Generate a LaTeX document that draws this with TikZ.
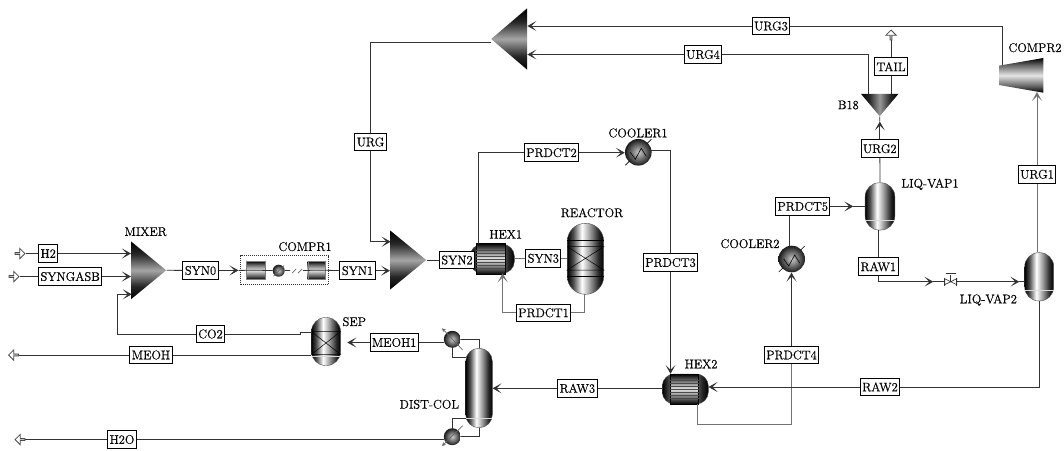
\documentclass[tikz,border=0pt]{standalone}
\usepackage{fontspec}
\usetikzlibrary{arrows.meta, shapes.geometric, shapes.arrows}
\newfontfamily\labelfont{Latin Modern Roman}[FakeBold=0.5]

\pgfdeclarehorizontalshading{vesselshade}{100bp}{color(0bp)=(black); color(25bp)=(black); color(33bp)=(black!70); color(45bp)=(white); color(55bp)=(black!35); color(68bp)=(black!85); color(75bp)=(black); color(100bp)=(black)}
\pgfdeclareverticalshading{tubeshade}{100bp}{color(0bp)=(black); color(25bp)=(black); color(35bp)=(black!60); color(50bp)=(black!10); color(65bp)=(black!60); color(75bp)=(black); color(100bp)=(black)}
\pgfdeclareverticalshading{mixshade}{100bp}{color(0bp)=(black); color(25bp)=(black); color(36bp)=(black!85); color(50bp)=(black!35); color(64bp)=(black!85); color(75bp)=(black); color(100bp)=(black)}
\pgfdeclarehorizontalshading{mixshadeside}{100bp}{color(0bp)=(black); color(25bp)=(black); color(36bp)=(black!85); color(50bp)=(black!40); color(64bp)=(black!85); color(75bp)=(black); color(100bp)=(black)}

\tikzset{
>={Stealth[length=9pt,width=10pt,inset=5pt]},
stream/.style={line width=0.8pt, black!80},
greystream/.style={line width=1pt, black!55},
tagbox/.style={draw, line width=1pt, fill=white, inner xsep=2pt, inner ysep=0pt, minimum height=17.5pt, font=\labelfont\fontsize{12.5}{14}\selectfont},
unitname/.style={inner sep=0pt, font=\labelfont\fontsize{12.5}{14}\selectfont},
vessel/.style={draw=black!70, line width=0.4pt, inner sep=0pt, shading=vesselshade, rounded corners=#1},
tubes/.style={draw=black, line width=0.6pt, inner sep=0pt, shading=tubeshade},
mixer/.style={isosceles triangle, isosceles triangle stretches, inner sep=0pt, shading=mixshade},
cooler/.style={circle, inner sep=0pt, minimum size=#1, inner color=black!20, outer color=black!90},
feedarrow/.style={single arrow, draw=black!70, fill=white, line width=0.8pt, inner sep=0pt, minimum height=10pt, minimum width=10.5pt, single arrow head extend=2pt},
}

\begin{document}
\begin{tikzpicture}[x=1pt, y=-1pt]
\useasboundingbox (0,0) rectangle (1064,450);

% units
\node[mixer, anchor=apex, minimum height=35pt, minimum width=57.6pt] (mixer) at (166.7,270.3) {};
\node[mixer, anchor=apex, minimum height=36pt, minimum width=59pt] (mixertwo) at (426.7,260) {};
\node[mixer, anchor=apex, shape border rotate=180, minimum height=36pt, minimum width=61.5pt] (split) at (490.7,39) {};
\node[mixer, anchor=apex, shape border rotate=270, minimum height=22.4pt, minimum width=37.6pt, shading=mixshadeside] (b18) at (879.7,116.7) {};
\shade[shading=tubeshade] (999,65.7) -- (1043.3,58) -- (1043.3,92.7) -- (999,85) -- cycle;

\node[vessel=14pt, minimum width=29pt, minimum height=48pt] (sep) at (326,341.5) {};
\node[vessel=18pt, minimum width=36.4pt, minimum height=71pt] (reactor) at (585.5,258.8) {};
\node[vessel=13pt, minimum width=26.6pt, minimum height=79.4pt] (column) at (479,388) {};
\node[vessel=14pt, minimum width=29.7pt, minimum height=47.3pt] (liqvapone) at (880,206.4) {};
\node[vessel=14pt, minimum width=29pt, minimum height=48.3pt] (liqvaptwo) at (1039.2,276.8) {};
\node[vessel=12pt, minimum width=44.3pt, minimum height=29pt] (hexone) at (492.2,258.8) {};
\node[vessel=12pt, minimum width=46pt, minimum height=30pt] (hextwo) at (685.3,389) {};
\node[tubes, minimum width=28.3pt, minimum height=31pt] (tubesone) at (490.8,258.8) {};
\node[tubes, minimum width=27.6pt, minimum height=30pt] (tubestwo) at (684.5,389) {};
\foreach \unit in {tubesone,tubestwo}
  \foreach \dy in {-9,-6,-3,0,3,6,9}
    \draw[black!70, line width=0.5pt] ([yshift=\dy pt]\unit.west) -- ([yshift=\dy pt]\unit.east);

\draw[black, line width=0.5pt] (567.3,240.7) -- (603.7,240.7);
\draw[black, line width=0.5pt] (567.3,246.7) -- (603.7,246.7) -- (567.3,270) -- (603.7,270) -- (567.3,246.7);
\draw[black, line width=0.5pt] (567.3,276.7) -- (603.7,276.7);
\draw[black, line width=0.5pt] (311.5,331.7) -- (340.5,331.7) -- (311.5,354.3) -- (340.5,354.3) -- (311.5,331.7);
\draw[black!15, line width=0.7pt] (311.5,356) -- (340.5,356);
\draw[black!15, line width=0.7pt] (465.7,418.3) -- (492.3,418.3);
\draw[black!15, line width=0.7pt] (865.2,220) -- (894.8,220);
\draw[black!15, line width=0.7pt] (1024.7,290.7) -- (1053.7,290.7);

\node[cooler=26.6pt] (coolerone) at (638.3,152.3) {};
\node[cooler=26.6pt] (coolertwo) at (791.7,259) {};
\foreach \unit in {coolerone,coolertwo} {
  \draw[black, line width=0.6pt] ([shift={(-13,13)}]\unit.center) -- ([shift={(-9,9)}]\unit.center);
  \draw[black, line width=0.6pt] ([shift={(13,-13)}]\unit.center) -- ([shift={(9,-9)}]\unit.center);
  \draw[black, line width=0.6pt] ([shift={(-8,0)}]\unit.center) -- ([shift={(-3,7)}]\unit.center) -- ([shift={(3,-4)}]\unit.center) -- ([shift={(8,4)}]\unit.center);
}
\node[cooler=17pt] (cond) at (452.3,339.3) {};
\node[cooler=17pt] (reboil) at (452.3,436.7) {};
\draw[black!60, line width=0.7pt, -{Stealth[length=4pt,width=4pt,inset=1.5pt]}] (462.7,350) -- (442,328.3);
\draw[black!60, line width=0.7pt, -{Stealth[length=4pt,width=4pt,inset=1.5pt]}] (462.7,425.7) -- (442,446);

% compressor block
\node[draw=black!80, densely dotted, line width=1pt, minimum width=87.6pt, minimum height=29pt] (comprone) at (284.5,270.2) {};
\node[draw=black!50, line width=0.3pt, shading=tubeshade, inner sep=0pt, minimum width=19pt, minimum height=18.3pt] (stageone) at (255.8,270.2) {};
\node[draw=black!50, line width=0.3pt, shading=tubeshade, inner sep=0pt, minimum width=17.6pt, minimum height=18.3pt] (stagetwo) at (316.5,270.2) {};
\node[cooler=12pt] (intercool) at (278.7,270.7) {};
\draw[black!60, line width=0.7pt] (273.5,276) -- (284,265.5);
\draw[black!60, line width=0.7pt] (292,273) -- (296,269);
\draw[black!60, line width=0.7pt] (298,273) -- (302,269);
\draw[stream] (stageone.center) -- (intercool);
\draw[stream] (intercool) -- (290,270.5);
\draw[stream] (303,270.5) -- (stagetwo.center);

% valve
\node[inner sep=0pt, minimum width=12pt, minimum height=10pt] (valve) at (950.7,281.7) {};
\begin{scope}[shift={(950.7,281.7)}]
\draw[black!80, line width=0.8pt] (-6,-4) -- (-6,4);
\draw[black!80, line width=0.8pt] (6,-4) -- (6,4);
\draw[black!80, line width=0.6pt] (-6,-3) -- (6,3) -- (6,-3) -- (-6,3) -- cycle;
\draw[black!80, line width=0.8pt] (0,0) -- (0,-7);
\draw[black!80, line width=1.2pt] (-5,-8) -- (5,-8);
\end{scope}

% stream tags
\node[tagbox] (lblhtwo) at (48.2,253.5) {H2};
\node[tagbox] (lblsyngas) at (70.2,276.5) {SYNGASB};
\node[tagbox] (lblsynzero) at (200.5,270.5) {SYN0};
\node[tagbox] (lblsynone) at (357.5,270.7) {SYN1};
\node[tagbox] (lblsyntwo) at (457,260) {SYN2};
\node[tagbox] (lblsynthree) at (543.3,258.3) {SYN3};
\node[tagbox] (lblco) at (210.5,334) {CO2};
\node[tagbox] (lblmeoh) at (151,355) {MEOH};
\node[tagbox] (lblwater) at (122,439.5) {H2O};
\node[tagbox] (lblmeohone) at (394.2,342.5) {MEOH1};
\node[tagbox] (lblurg) at (370.5,142) {URG};
\node[tagbox] (lblurgone) at (1037,174.3) {URG1};
\node[tagbox] (lblurgtwo) at (879.8,148.7) {URG2};
\node[tagbox] (lblurgthree) at (771,26) {URG3};
\node[tagbox] (lblurgfour) at (703,54.5) {URG4};
\node[tagbox] (lbltail) at (891,66.7) {TAIL};
\node[tagbox] (lblprdone) at (543.5,312.8) {PRDCT1};
\node[tagbox] (lblprdtwo) at (551.5,152.7) {PRDCT2};
\node[tagbox] (lblprdthree) at (670.5,262.5) {PRDCT3};
\node[tagbox] (lblprdfour) at (791.5,355) {PRDCT4};
\node[tagbox] (lblprdfive) at (802.7,206.4) {PRDCT5};
\node[tagbox] (lblrawone) at (878.3,266.7) {RAW1};
\node[tagbox] (lblrawtwo) at (880,387) {RAW2};
\node[tagbox] (lblrawthree) at (577.3,388.3) {RAW3};

% unit names
\node[unitname] (nmixer) at (145.7,231.7) {MIXER};
\node[unitname] (ncomprone) at (305,246.7) {COMPR1};
\node[unitname] (ncomprtwo) at (1035,47.7) {COMPR2};
\node[unitname] (nsep) at (354.3,321.7) {SEP};
\node[unitname] (nhexone) at (505.7,234.3) {HEX1};
\node[unitname] (nhextwo) at (701,364) {HEX2};
\node[unitname] (nreactor) at (592,212.7) {REACTOR};
\node[unitname] (ncoolerone) at (638,133) {COOLER1};
\node[unitname] (ncoolertwo) at (750,243.7) {COOLER2};
\node[unitname] (ncolumn) at (429.3,404.3) {DIST-COL};
\node[unitname] (nbeighteen) at (848.3,105) {B18};
\node[unitname] (nliqone) at (930,184.3) {LIQ-VAP1};
\node[unitname] (nliqtwo) at (988.3,300) {LIQ-VAP2};

% feeds and products
\node[feedarrow] (feedhtwo) at (19.5,253.5) {};
\node[feedarrow] (feedsyngas) at (13.5,276.5) {};
\node[feedarrow, shape border rotate=180] (prodmeoh) at (14,355) {};
\node[feedarrow, shape border rotate=180] (prodwater) at (20.5,439.5) {};
\node[feedarrow, shape border rotate=90] (prodtail) at (891,35.5) {};

% free ends
\coordinate (tipcompr) at (238.5,270.4);
\coordinate (tipliqone) at (853.3,206.4);
\coordinate (tipvalve) at (933.3,281.7);
\coordinate (tipliqtwo) at (1019.3,281.7);
\coordinate (tipb) at (879.8,121.5);
\coordinate (tipsep) at (347.3,342.5);
\coordinate (mixerco) at (131.7,294.3);
\coordinate (mixerurg) at (390.7,241.7);
\coordinate (sepco) at (311.5,332.3);
\coordinate (splitout) at (490.7,42.7);
\coordinate (comprin) at (1002.7,65);
\coordinate (comprout) at (1037,92);
\coordinate (hexoneout) at (478.3,244.3);
\coordinate (hexoneret) at (502.7,273.3);
\coordinate (hextwoout) at (697.7,404);
\coordinate (reactorout) at (584,294.3);
\coordinate (cooleroneout) at (651,150);
\coordinate (coolertwoout) at (789.3,246);
\coordinate (bvap) at (868.3,94.3);
\coordinate (colreflux) at (465.7,357.3);
\coordinate (colboil) at (465.7,418.7);

% streams
\draw[stream] (feedhtwo) -- (lblhtwo);
\draw[stream,->] (lblhtwo) -- (lblhtwo -| mixer.left corner);
\draw[stream] (feedsyngas) -- (lblsyngas);
\draw[stream,->] (lblsyngas) -- (lblsyngas -| mixer.left corner);
\draw[stream] (mixer.apex) -- (lblsynzero);
\draw[stream,->] (lblsynzero) -- (tipcompr);
\draw[stream] (tipcompr) -- (comprone.west |- tipcompr) -- (stageone.center);
\draw[stream] (stagetwo.center) -- (lblsynone);
\draw[stream,->] (lblsynone) -- (lblsynone -| mixertwo.left corner);
\draw[stream] (sepco) -- (300,332.3) -- (300,334) -- (lblco);
\draw[stream,->] (lblco) -- (117.3,334) |- (mixerco);
\draw[stream] (lblmeoh -| sep.west) -- (lblmeoh);
\draw[stream] (lblmeoh) -- (prodmeoh);
\draw[stream,->] (lblmeohone) -- (tipsep);
\draw[stream] (lblmeohone -| cond.west) -- (lblmeohone);
\draw[stream] (reboil.west |- lblwater) -- (lblwater);
\draw[stream] (lblwater) -- (prodwater);
\draw[stream] (cond.east) -| (column.north);
\draw[stream] (cond.south) |- (colreflux);
\draw[stream] (colboil) -| (reboil.north);
\draw[stream] (reboil.east) -| (column.south);
\draw[stream] (splitout) -| (lblurg);
\draw[stream,->] (lblurg) |- (mixerurg);
\draw[stream] (mixertwo.apex) -- (lblsyntwo);
\draw[greystream] (hexone.east |- lblsynthree) -- (lblsynthree);
\draw[greystream] (lblsynthree) -- (lblsynthree -| reactor.west);
\draw[greystream] (reactorout) |- (lblprdone);
\draw[greystream,->] (lblprdone) -| (hexoneret);
\draw[stream] (hexoneout) |- (lblprdtwo);
\draw[stream,->] (lblprdtwo) -- (lblprdtwo -| coolerone.west);
\draw[stream] (cooleroneout) -| (lblprdthree);
\draw[stream,->] (lblprdthree) -- (lblprdthree |- hextwo.north);
\draw[stream,->] (lblrawthree) -- (lblrawthree -| column.east);
\draw[stream] (hextwo.west |- lblrawthree) -- (lblrawthree);
\draw[greystream] (hextwoout) -- (697.7,424.3) -| (lblprdfour);
\draw[stream,->] (lblprdfour) -- (lblprdfour |- coolertwo.south);
\draw[stream] (coolertwoout) -- (coolertwoout |- lblprdfive.south);
\draw[stream,->] (lblprdfive) -- (tipliqone);
\draw[stream] (tipliqone) -- (liqvapone.west);
\draw[stream] (liqvapone.north) -- (lblurgtwo);
\draw[stream,->] (lblurgtwo) -- (tipb);
\draw[stream] (tipb) -- (b18.apex);
\draw[stream] (lbltail |- b18.lower side) -- (lbltail);
\draw[stream] (lbltail) -- (prodtail);
\draw[stream] (bvap) |- (lblurgfour);
\draw[stream,->] (lblurgfour) -- (lblurgfour -| split.left corner);
\draw[stream] (lblrawone |- liqvapone.south) -- (lblrawone);
\draw[stream,->] (lblrawone) |- (tipvalve);
\draw[stream] (tipvalve) -- (valve);
\draw[stream,->] (valve) -- (tipliqtwo);
\draw[stream] (tipliqtwo) -- (tipliqtwo -| liqvaptwo.west);
\draw[greystream] (lblurgone |- liqvaptwo.north) -- (lblurgone);
\draw[greystream,->] (lblurgone) -- (comprout);
\draw[stream] (lblurgthree) -| (comprin);
\draw[stream,->] (lblurgthree) -- (lblurgthree -| split.left corner);
\draw[stream] (liqvaptwo.south) |- (lblrawtwo);
\draw[stream,->] (lblrawtwo) -- (lblrawtwo -| hextwo.east);
\end{tikzpicture}
\end{document}
